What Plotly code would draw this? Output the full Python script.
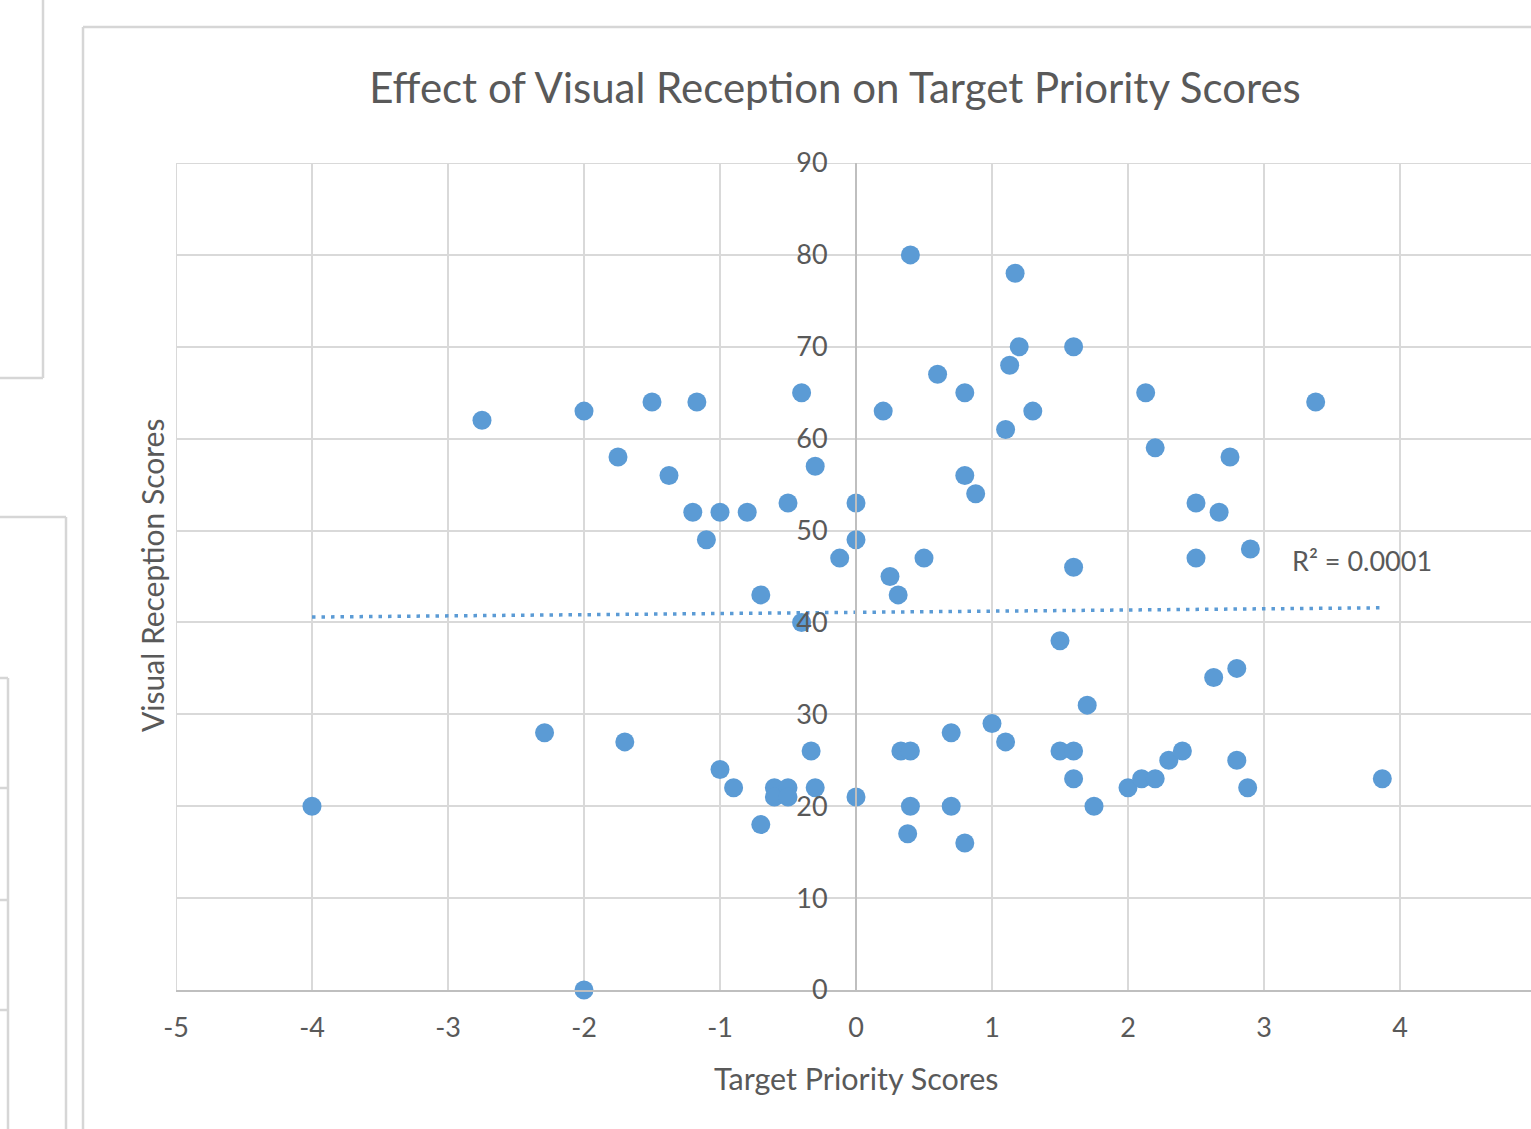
import numpy as np
import plotly.graph_objects as go

# ---- data ----
target_priority = [-4.0, -2.75, -2.29, -2.0, -2.0, -1.75, -1.70, -1.5, -1.375, -1.2,
                   -1.17, -1.1, -1.0, -1.0, -0.9, -0.8, -0.7, -0.7, -0.6, -0.6,
                   -0.5, -0.5, -0.5, -0.4, -0.4, -0.33, -0.3, -0.3, -0.12, 0.0,
                   0.0, 0.0, 0.2, 0.25, 0.31, 0.33, 0.38, 0.4, 0.4, 0.4,
                   0.5, 0.6, 0.7, 0.7, 0.8, 0.8, 0.8, 0.88, 1.0, 1.1,
                   1.1, 1.13, 1.17, 1.2, 1.3, 1.5, 1.5, 1.6, 1.6, 1.6,
                   1.6, 1.7, 1.75, 2.0, 2.13, 2.1, 2.2, 2.2, 2.3, 2.4,
                   2.5, 2.5, 2.63, 2.67, 2.75, 2.8, 2.8, 2.88, 2.9, 3.38,
                   3.87]
visual_reception = [20, 62, 28, 63, 0, 58, 27, 64, 56, 52,
                    64, 49, 52, 24, 22, 52, 43, 18, 22, 21,
                    53, 22, 21, 65, 40, 26, 57, 22, 47, 53,
                    49, 21, 63, 45, 43, 26, 17, 80, 26, 20,
                    47, 67, 28, 20, 65, 56, 16, 54, 29, 61,
                    27, 68, 78, 70, 63, 38, 26, 70, 46, 26,
                    23, 31, 20, 22, 65, 23, 59, 23, 25, 26,
                    53, 47, 34, 52, 58, 35, 25, 22, 48, 64,
                    23]
trend_intercept = 41.1     # linear trendline
trend_slope = 0.128
r_squared_label = "R² = 0.0001"
x_ticks = [-5, -4, -3, -2, -1, 0, 1, 2, 3, 4]
x_tick_text = ["-5", "-4", "-3", "-2", "-1", "0", "1", "2", "3", "4"]
y_ticks = [0, 10, 20, 30, 40, 50, 60, 70, 80, 90]

# ---- layout geometry (pixels) ----
W, H = 1531, 1129
L, R, T, B = 176, 1531, 163, 990
X_MIN = -5
PX_PER_X = 136.0
X_MAX = X_MIN + (R - L) / PX_PER_X
Y_MIN, Y_MAX = 0, 90

def px(x):
    return (x - L) / (R - L)

def py(y):
    return (B - y) / (B - T)

BLUE = "#5B9BD5"
TEXT = "#595959"
GRID = "#D9D9D9"
AXIS = "#BFBFBF"
FONT = "Lato"

fig = go.Figure()

trend_x = np.array([min(target_priority), max(target_priority)])
trend_y = trend_intercept + trend_slope * trend_x
fig.add_trace(go.Scatter(x=trend_x, y=trend_y, mode="lines",
                         line=dict(color=BLUE, width=3.5, dash="3.5px,6px"),
                         hoverinfo="skip", showlegend=False))

fig.add_trace(go.Scatter(x=target_priority, y=visual_reception, mode="markers",
                         marker=dict(color=BLUE, size=19, line=dict(width=0)),
                         showlegend=False, cliponaxis=False))

# frames of surrounding charts (decoration)
frame_col = "#D6D6D6"
frames = [
    (43, 0, 43, 378), (0, 378, 43, 378),
    (0, 517, 66, 517), (66, 517, 66, 1129),
    (0, 678, 8, 678), (8, 678, 8, 1129),
    (0, 788, 8, 788), (0, 900, 8, 900), (0, 1010, 8, 1010),
    (83, 27, 83, 1129), (83, 27, 1531, 27),
]
shapes = []
for x0, y0, x1, y1 in frames:
    shapes.append(dict(type="line", xref="paper", yref="paper",
                       x0=px(x0), y0=py(y0), x1=px(x1), y1=py(y1),
                       line=dict(color=frame_col, width=2.5), layer="below"))
# edge gridlines that plotly omits at the range limits
shapes.append(dict(type="line", xref="x", yref="y", x0=X_MIN, x1=X_MIN, y0=Y_MIN, y1=Y_MAX,
                   line=dict(color=GRID, width=2), layer="below"))
shapes.append(dict(type="line", xref="x", yref="y", x0=X_MIN, x1=X_MAX, y0=Y_MAX, y1=Y_MAX,
                   line=dict(color=GRID, width=2), layer="below"))

annotations = [
    dict(text="Target Priority Scores", xref="paper", yref="paper",
         x=px(856), y=py(1078), showarrow=False, xanchor="center", yanchor="middle",
         font=dict(family=FONT, size=30.5, color=TEXT)),
    dict(text="Visual Reception Scores", xref="paper", yref="paper",
         x=px(152), y=py(576), showarrow=False, xanchor="center", yanchor="middle",
         textangle=-90, font=dict(family=FONT, size=30, color=TEXT)),
    dict(text=r_squared_label, xref="x", yref="y",
         x=X_MIN + (1290 - L) / PX_PER_X, y=46.7, showarrow=False,
         xanchor="left", yanchor="middle",
         font=dict(family=FONT, size=27, color=TEXT)),
]

fig.update_layout(
    width=W, height=H,
    margin=dict(l=L, r=W - R, t=T, b=H - B, pad=0),
    paper_bgcolor="white", plot_bgcolor="white",
    title=dict(text="Effect of Visual Reception on Target Priority Scores",
               x=835 / W, xanchor="center", y=1 - 88 / H, yanchor="middle",
               xref="container", yref="container",
               font=dict(family=FONT, size=42, color=TEXT)),
    showlegend=False,
    shapes=shapes,
    annotations=annotations,
    xaxis=dict(range=[X_MIN, X_MAX], tickvals=x_ticks, ticktext=x_tick_text,
               showgrid=True, gridcolor=GRID, gridwidth=2,
               zeroline=False, showline=True, linecolor=AXIS, linewidth=2,
               ticks="", ticklabelstandoff=13,
               tickfont=dict(family=FONT, size=27, color=TEXT)),
    yaxis=dict(range=[Y_MIN, Y_MAX], tickvals=y_ticks,
               anchor="free", position=px(856),
               showgrid=True, gridcolor=GRID, gridwidth=2,
               zeroline=False, showline=True, linecolor=AXIS, linewidth=2,
               ticks="", ticklabelstandoff=22,
               tickfont=dict(family=FONT, size=27, color=TEXT)),
)

fig.write_html(
    "out.html",
    config={"displayModeBar": False},
    post_script="document.body.style.margin='0px';"
                "document.documentElement.style.overflow='hidden';",
)
